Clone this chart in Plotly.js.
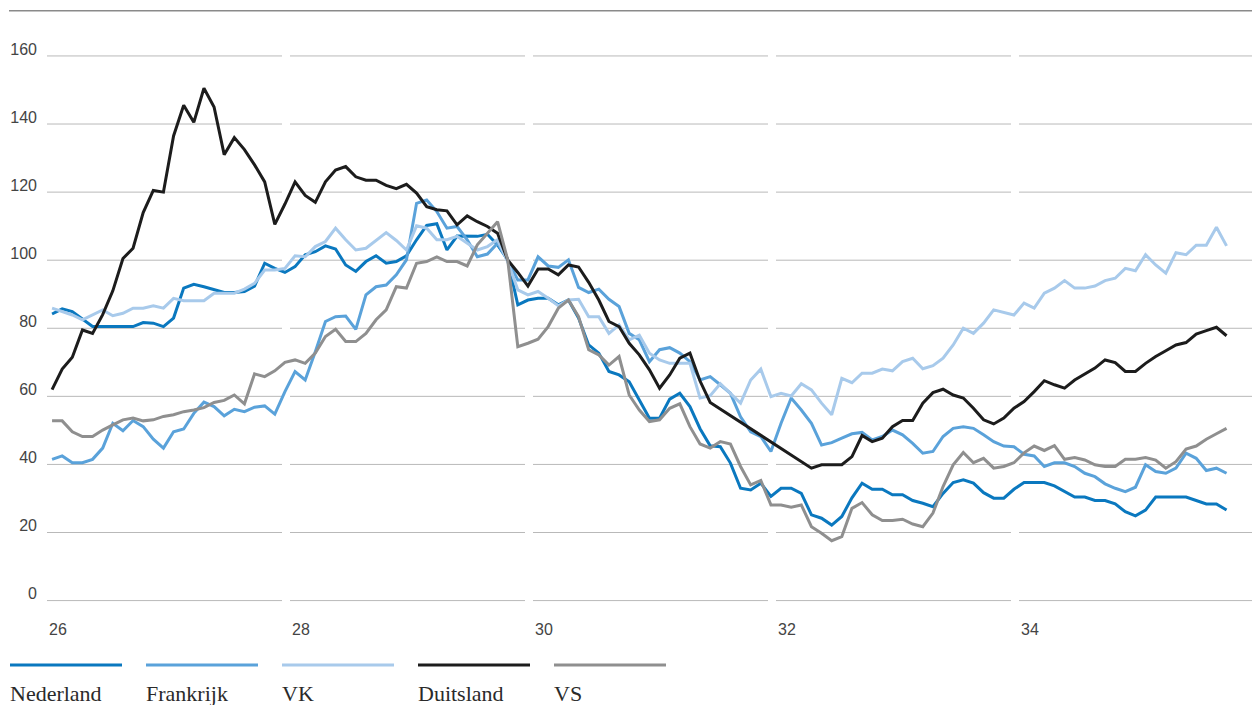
<!DOCTYPE html>
<html>
<head>
<meta charset="utf-8">
<script src="https://cdn.plot.ly/plotly-3.0.1.min.js"></script>
<style>
  html, body { margin: 0; padding: 0; background: #ffffff; }
  #chart { width: 1252px; height: 705px; }
</style>
</head>
<body>
<div id="chart"></div>
<script>
// ---- DATA (monthly, Jan 1926 – Sep 1935; index 1926-1935, x-axis labels are years '26..'34) ----
const startYear = 26;
const seriesNames = ['Nederland', 'Frankrijk', 'VK', 'Duitsland', 'VS'];
const seriesColors = ['#0a78bf', '#5aa2da', '#a8caeb', '#1c1c1c', '#8f8f8f'];

const nederland = [84.2,85.7,84.9,82.7,80.5,80.5,80.5,80.5,80.5,81.7,81.5,80.5,
  83,91.8,92.9,92.2,91.3,90.5,90.5,90.8,92.4,99.1,97.6,96.4,
  98.1,101.6,102.5,104.2,103.3,98.6,96.7,99.6,101.3,99.1,99.6,101.3,
  106,110.2,110.7,103,107.1,107,107,107.6,104.5,100.1,86.9,88.3,
  88.8,88.8,86.9,88.3,83,75.1,72.7,67.3,66.3,64.3,59,53.6,
  53.6,59.2,60.9,57,50.5,45.5,45.2,40.4,33,32.5,34.5,30.6,
  33,33,31.5,25.2,24.2,22.2,24.7,30.2,34.5,32.7,32.7,31.1,
  31.1,29.4,28.6,27.6,31.5,34.7,35.5,34.5,31.7,30.1,30.1,32.7,
  34.7,34.7,34.7,33.7,32,30.4,30.4,29.4,29.4,28.4,26.1,24.9,
  26.6,30.4,30.4,30.4,30.4,29.4,28.4,28.4,26.6];

const frankrijk = [41.5,42.5,40.5,40.5,41.5,44.8,52.1,49.9,52.9,51.1,47.4,44.8,
  49.6,50.4,55,58.3,57,54.3,56.2,55.5,56.8,57.2,54.8,61.4,
  67.3,64.8,73.1,82,83.4,83.6,79.7,89.8,92.2,92.7,95.7,100.1,
  116.7,117.7,114.3,109.4,109.9,106,101,101.8,105,100,94.2,94.2,
  101,98.3,97.9,100.1,92,90.5,91.5,88.5,86.4,78.5,76.6,70.2,
  73.7,74.3,72.7,70.2,64.8,65.8,63.4,60.9,54,49.6,48.2,43.8,
  52.1,59.5,56,52.1,45.7,46.4,47.7,49,49.4,47.2,48.2,50.1,
  48.7,46.2,43.3,43.8,48.2,50.6,51.1,50.6,48.7,46.7,45.4,45.2,
  43,42.5,39.4,40.5,40.5,39.4,37.4,36.4,34.3,33,32,33.3,
  39.9,37.9,37.4,38.9,43.3,41.8,38.2,38.9,37.4];

const vk = [85.9,84.9,83.9,82.5,83.9,85.4,83.7,84.4,85.9,85.9,86.6,85.9,
  88.8,88.1,88.1,88.1,90.3,90.3,90.3,91.5,93.2,97.1,97.1,97.6,
  101.3,101,104,105.5,109.4,106,103,103.5,105.8,108.1,105.8,103,
  110.1,109.4,106,106,107,105,103,104,106,99.6,91.3,89.8,
  90.8,88.8,86.6,88.3,88.5,83.4,83.4,78.5,81,76.6,78,72.7,
  70.7,69.7,69.7,69.7,59.5,60.2,63.7,60.9,58,64.8,68,59.9,
  60.9,60.1,63.7,61.9,58,54.6,65.3,64,66.8,66.8,68,67.5,
  70.2,71.2,68.1,69,71.2,75.1,80,78.5,81.5,85.4,84.6,83.9,
  87.4,85.9,90.3,91.8,94,91.8,91.8,92.4,94,94.7,97.6,96.9,
  101.6,98.6,96.2,102.2,101.6,104.4,104.4,109.7,104.2];

// null = month not drawn as a point in the source (straight segment there)
const duitsland = [62,68,71.5,79.5,78.5,84,91,100.5,103.5,114,120.5,120,
  136.5,145.5,140.5,150.5,145,131,136,132.5,128,123,110.5,116.5,
  123,119,117,123,126.5,127.5,124.5,123.5,123.5,122,121,122.3,
  119.7,115.7,114.8,114.5,110.4,113,111.3,109.9,107.9,100.1,96.4,92.4,
  97.4,97.4,95.7,98.6,98,93.5,88.3,82,80.5,75.6,72.2,67.8,
  62.4,66.3,71.2,72.7,64.5,58.2,null,null,null,null,null,null,
  null,null,null,38.9,39.9,39.9,39.9,42.3,48.5,46.7,47.7,51.1,
  52.9,52.9,58,61.1,62.1,60.4,59.5,56.5,53.1,51.9,53.6,56.5,
  58.5,61.4,64.6,63.4,62.4,64.8,66.6,68.3,70.7,69.9,67.3,67.3,
  69.7,71.7,73.4,75.1,75.8,78.3,79.3,80.3,77.8];

const vs = [52.8,52.8,49.6,48.2,48.2,50.1,51.6,53.1,53.6,52.8,53.1,54.1,
  54.6,55.5,56,56.7,58.2,58.8,60.4,57.8,66.6,65.8,67.5,70,
  70.7,69.7,72.7,77.6,79.7,76.1,76.1,78.5,82.5,85.4,92.2,91.8,
  99.1,99.6,101,99.6,99.6,98.3,104.5,107.9,111.3,100.1,74.6,75.6,
  76.8,80.5,85.9,88.3,83.4,73.7,72.2,69.2,71.7,60.4,56,52.6,
  53.1,56.5,57.8,51.1,46,44.8,46.7,46,39.4,34,35.3,28.1,
  28.1,27.4,28.1,21.7,19.8,17.6,18.8,27.1,28.8,25.2,23.5,23.5,
  23.9,22.5,21.7,25.7,33.5,39.9,43.5,40.5,41.8,38.9,39.4,40.5,
  43.4,45.4,44.1,45.5,41.5,42,41.3,39.9,39.4,39.4,41.5,41.5,
  42,41.3,38.9,40.8,44.5,45.4,47.4,49,50.6];

const xTickVals = [26, 28, 30, 32, 34];
const xTickText = ['26', '28', '30', '32', '34'];
const yTickVals = [0, 20, 40, 60, 80, 100, 120, 140, 160];
const yTickText = ['0', '20', '40', '60', '80', '100', '120', '140', '160'];

// ---- LAYOUT GEOMETRY ----
const W = 1252, H = 705;
const M = { l: 47, r: 0, t: 10, b: 95 };
const plotW = W - M.l - M.r, plotH = H - M.t - M.b;
const pxPerYear = 121.5;
const xMax = startYear + plotW / pxPerYear;
const pxPerUnit = 3.404;
const yTop = 173.5;
const yBottom = yTop - plotH / pxPerUnit;

const allSeries = [nederland, frankrijk, vk, duitsland, vs];
const months = nederland.map((_, i) => startYear + (i + 0.5) / 12);

const traces = allSeries.map((vals, k) => ({
  type: 'scatter',
  mode: 'lines',
  name: seriesNames[k],
  x: months,
  y: vals,
  connectgaps: true,
  line: { color: seriesColors[k], width: 3, shape: 'linear' },
  hoverinfo: 'skip',
  showlegend: false
}));

const px2paperX = p => (p - M.l) / plotW;
const px2paperY = p => (M.t + plotH - p) / plotH;

const shapes = [];
// horizontal grid segments with small gaps before each labelled year
const gapYears = 8 / pxPerYear;
const segStarts = xTickVals.slice();
yTickVals.forEach(v => {
  segStarts.forEach((s, i) => {
    const e = (i < segStarts.length - 1) ? segStarts[i + 1] - gapYears : xMax;
    shapes.push({ type: 'line', layer: 'below', xref: 'x', yref: 'y',
      x0: s, x1: e, y0: v, y1: v, line: { color: '#b9b9b9', width: 1 } });
  });
});
// top rule
shapes.push({ type: 'line', xref: 'paper', yref: 'paper',
  x0: px2paperX(9), x1: 1, y0: px2paperY(10.7), y1: px2paperY(10.7),
  line: { color: '#8a8a8a', width: 1.5 } });

// legend (lines + serif labels)
const annotations = [];
seriesNames.forEach((nm, k) => {
  const lx = 10 + k * 136;
  shapes.push({ type: 'line', xref: 'paper', yref: 'paper',
    x0: px2paperX(lx), x1: px2paperX(lx + 112),
    y0: px2paperY(665), y1: px2paperY(665),
    line: { color: seriesColors[k], width: 3 } });
  annotations.push({ xref: 'paper', yref: 'paper',
    x: px2paperX(lx - 2), y: px2paperY(693),
    xanchor: 'left', yanchor: 'middle', showarrow: false, text: nm,
    font: { family: 'Liberation Serif, Times New Roman, serif', size: 22, color: '#2a2a2a' } });
});

const tickFont = { family: 'Liberation Sans, Arial, sans-serif', size: 16, color: '#444444' };

const layout = {
  width: W, height: H,
  margin: M,
  paper_bgcolor: '#ffffff',
  plot_bgcolor: '#ffffff',
  showlegend: false,
  xaxis: {
    range: [startYear, xMax],
    tickmode: 'array', tickvals: xTickVals, ticktext: xTickText,
    showgrid: false, zeroline: false, showline: false, ticks: '',
    ticklabelshift: 11, ticklabelstandoff: 8,
    tickfont: tickFont, fixedrange: true
  },
  yaxis: {
    range: [yBottom, yTop],
    tickmode: 'array', tickvals: yTickVals, ticktext: yTickText,
    showgrid: false, zeroline: false, showline: false, ticks: '',
    ticklabelshift: -7, ticklabelstandoff: 9,
    tickfont: tickFont, fixedrange: true
  },
  shapes: shapes,
  annotations: annotations
};

Plotly.newPlot('chart', traces, layout, { displayModeBar: false, staticPlot: true });
</script>
</body>
</html>
